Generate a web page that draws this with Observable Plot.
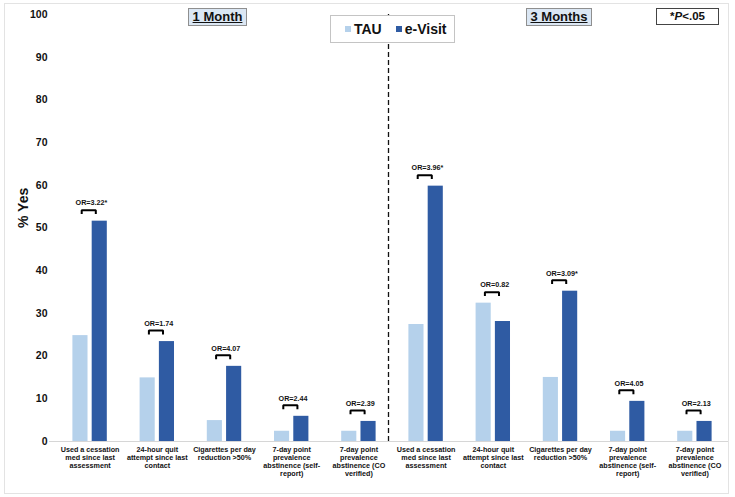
<!DOCTYPE html>
<html>
<head>
<meta charset="utf-8">
<script src="https://cdn.jsdelivr.net/npm/d3@7"></script>
<script src="https://cdn.jsdelivr.net/npm/@observablehq/plot@0.6"></script>
<style>
  html, body { margin: 0; padding: 0; background: #fff; }
  body { font-family: Arial, "Liberation Sans", sans-serif; }
  #wrap { position: relative; width: 735px; height: 497px; overflow: hidden; }
  #wrap svg { position: absolute; left: 0; top: 0; }
  .frame { position: absolute; left: 4px; top: 3px; width: 723px; height: 489px; border: 1px solid #e3e3e3; pointer-events: none; }
  .period { position: absolute; top: 8px; height: 18px; box-sizing: border-box; background: #dbe7f4; border: 1px solid #8f8f8f;
    font: bold 13px Arial, "Liberation Sans", sans-serif; text-decoration: underline; color: #111; text-align: center; line-height: 16px; }
  .legend { position: absolute; left: 330px; top: 15px; width: 125px; height: 28px; box-sizing: border-box; background: #fff; border: 1px solid #c4c4c4;
    font: bold 14px Arial, "Liberation Sans", sans-serif; color: #111; display: flex; align-items: center; }
  .legend .sw { display: inline-block; width: 6px; height: 6px; margin-right: 3px; }
  .pbox { position: absolute; left: 656px; top: 8px; width: 63px; height: 17px; box-sizing: border-box; background: #fff; border: 1px solid #444;
    font: bold 11.5px Arial, "Liberation Sans", sans-serif; color: #111; text-align: center; line-height: 15px; }
</style>
</head>
<body>
<div id="wrap"></div>
<script>
// ---- data ----
const periods = ["1 Month", "3 Months"];
const outcomes = [
  "Used a cessation\nmed since last\nassessment",
  "24-hour quit\nattempt since last\ncontact",
  "Cigarettes per day\nreduction >50%",
  "7-day point\nprevalence\nabstinence (self-\nreport)",
  "7-day point\nprevalence\nabstinence (CO\nverified)"
];
const series = ["TAU", "e-Visit"];
const tau1M = [24.8, 14.9, 4.9, 2.4, 2.4];
const eVisit1M = [51.6, 23.4, 17.6, 5.9, 4.7];
const tau3M = [27.4, 32.4, 15.0, 2.4, 2.4];
const eVisit3M = [59.8, 28.1, 35.2, 9.4, 4.7];
const or1M = ["OR=3.22*", "OR=1.74", "OR=4.07", "OR=2.44", "OR=2.39"];
const or3M = ["OR=3.96*", "OR=0.82", "OR=3.09*", "OR=4.05", "OR=2.13"];
const yTicks = [0, 10, 20, 30, 40, 50, 60, 70, 80, 90, 100];
const colors = ["#b5d1eb", "#2f5ba3"];

// ---- table ----
const tauAll = [...tau1M, ...tau3M];
const evAll = [...eVisit1M, ...eVisit3M];
const orAll = [...or1M, ...or3M];
const rows = [];
periods.forEach((p, pi) => outcomes.forEach((o, oi) => {
  const idx = pi * outcomes.length + oi;
  rows.push({idx, period: p, outcome: o, tau: tauAll[idx], ev: evAll[idx], or: orAll[idx], max: Math.max(tauAll[idx], evAll[idx])});
}));
const nCat = rows.length;
const labels = rows.map(d => d.outcome);

// layout in category units
const bw = 0.225, gap = 0.062;
const bracketHalf = 0.105, bracketCenter = 0.48, tickLen = 0.9;
const brackets = rows.flatMap(d => {
  const xl = d.idx + bracketCenter - bracketHalf, xr = d.idx + bracketCenter + bracketHalf;
  return [
    {k: d.idx, x: xl, y: d.max - tickLen},
    {k: d.idx, x: xl, y: d.max},
    {k: d.idx, x: xr, y: d.max},
    {k: d.idx, x: xr, y: d.max - tickLen}
  ];
});

const font = "Arial, 'Liberation Sans', sans-serif";
const chart = Plot.plot({
  width: 735,
  height: 497,
  marginLeft: 56,
  marginRight: 7,
  marginTop: 14,
  marginBottom: 56,
  style: {fontFamily: font, color: "#111", background: "transparent"},
  x: {domain: [0, nCat]},
  y: {domain: [0, 100]},
  marks: [
    Plot.ruleY([0], {stroke: "#d6d6d6", strokeWidth: 1, insetLeft: -7}),
    Plot.ruleX([periods.length > 1 ? outcomes.length : 0], {y1: 0, y2: 100, stroke: "#111", strokeWidth: 1.3, strokeDasharray: "5,3", dx: -4}),
    Plot.rectY(rows, {x1: d => d.idx + 0.5 - gap / 2 - bw, x2: d => d.idx + 0.5 - gap / 2, y: "tau", fill: colors[0]}),
    Plot.rectY(rows, {x1: d => d.idx + 0.5 + gap / 2, x2: d => d.idx + 0.5 + gap / 2 + bw, y: "ev", fill: colors[1]}),
    Plot.line(brackets, {x: "x", y: "y", z: "k", stroke: "#000", strokeWidth: 2, dy: -11, strokeLinejoin: "miter", strokeLinecap: "butt"}),
    Plot.text(rows, {x: d => d.idx + 0.52, y: "max", text: "or", dy: -18, fontSize: 7.2, fontWeight: "bold", fill: "#111"}),
    Plot.axisY({ticks: yTicks, tickSize: 0, tickPadding: 9, fontSize: 10.5, fontWeight: "bold", label: null, fill: "#111"}),
    Plot.axisX({ticks: d3.range(nCat).map(i => i + 0.5), tickFormat: v => labels[Math.floor(v)], tickSize: 0, tickPadding: 5,
      fontSize: 7.2, fontWeight: "bold", lineHeight: 1.12, label: null, fill: "#111"}),
    Plot.text(["% Yes"], {frameAnchor: "left", dx: -33, rotate: -90, fontSize: 14, fontWeight: "bold", fill: "#111"})
  ]
});

const wrap = document.getElementById("wrap");
wrap.appendChild(chart);

const frame = document.createElement("div");
frame.className = "frame";
wrap.appendChild(frame);

const periodBoxes = [{text: periods[0], left: 188, width: 59}, {text: periods[1], left: 526, width: 66}];
periodBoxes.forEach(b => {
  const el = document.createElement("div");
  el.className = "period";
  el.style.left = b.left + "px";
  el.style.width = b.width + "px";
  el.textContent = b.text;
  wrap.appendChild(el);
});

const legend = document.createElement("div");
legend.className = "legend";
series.forEach((s, i) => {
  const item = document.createElement("span");
  item.style.display = "inline-flex";
  item.style.alignItems = "center";
  item.style.marginLeft = i === 0 ? "14px" : "14px";
  const sw = document.createElement("span");
  sw.className = "sw";
  sw.style.background = colors[i];
  item.appendChild(sw);
  item.appendChild(document.createTextNode(s));
  legend.appendChild(item);
});
wrap.appendChild(legend);

const pbox = document.createElement("div");
pbox.className = "pbox";
pbox.innerHTML = "*<i>P</i>&lt;.05";
wrap.appendChild(pbox);
</script>
</body>
</html>
